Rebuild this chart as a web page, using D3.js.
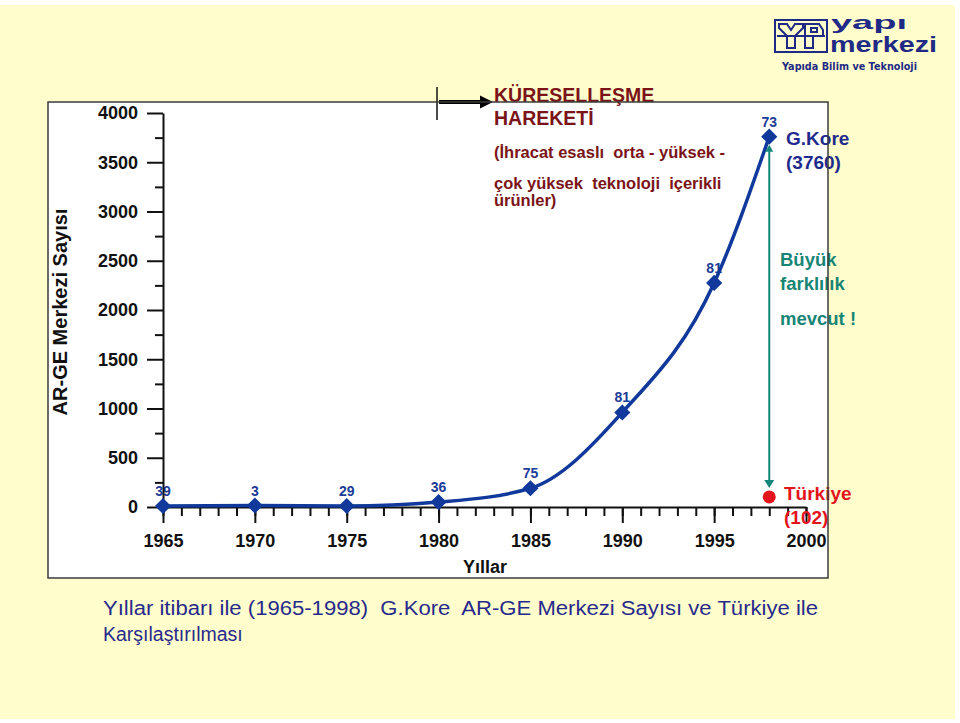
<!DOCTYPE html>
<html>
<head>
<meta charset="utf-8">
<script src="https://cdn.jsdelivr.net/npm/d3@7"></script>
<style>
  html, body { margin: 0; padding: 0; background: #ffffff; }
  svg { display: block; }
  text { font-family: "Liberation Sans", Arial, sans-serif; }
</style>
</head>
<body>
<svg id="chart" width="960" height="723"></svg>
<script>
// ---------------- data ----------------
const years = [1965, 1970, 1975, 1980, 1985, 1990, 1995, 1998];
const koreValues = [10, 15, 10, 50, 190, 960, 2275, 3760];
const pointLabels = ["39", "3", "29", "36", "75", "81", "81", "73"];
const turkeyYear = 1998;
const turkeyValue = 102;
const yMajorTicks = [0, 500, 1000, 1500, 2000, 2500, 3000, 3500, 4000];
const yMinorTicks = [250, 750, 1250, 1750, 2250, 2750, 3250, 3750];
const xMajorTicks = [1965, 1970, 1975, 1980, 1985, 1990, 1995, 2000];
const xMinorTicks = d3.range(1965, 2001);
const annotationTitle = ["KÜRESELLEŞME", "HAREKETİ"];
const annotationBody = ["(İhracat esaslı  orta - yüksek -", "çok yüksek  teknoloji  içerikli", "ürünler)"];
const gapText = ["Büyük", "farklılık", "mevcut !"];
const captionLines = ["Yıllar itibarı ile (1965-1998)  G.Kore  AR-GE Merkezi Sayısı ve Türkiye ile", "Karşılaştırılması"];

// ---------------- setup ----------------
const svg = d3.select("#chart");
const x = d3.scaleLinear().domain([1965, 2000]).range([163, 806]);
const y = d3.scaleLinear().domain([0, 4000]).range([507, 113]);

const navy = "#10399B";
const teal = "#15877A";
const red = "#E3141C";
const darkRed = "#7A1418";

// slide background
svg.append("rect").attr("x", 0).attr("y", 5).attr("width", 955).attr("height", 714).attr("fill", "#FFFDCB");

// chart frame fill
svg.append("rect").attr("x", 48).attr("y", 102).attr("width", 780).attr("height", 476).attr("fill", "#ffffff");

// ---------------- data labels (under the line) ----------------
svg.append("g").selectAll("text").data(years).join("text")
  .attr("x", (d) => x(d))
  .attr("y", (d, i) => y(koreValues[i]) - 10)
  .attr("text-anchor", "middle")
  .attr("font-size", 14).attr("font-weight", "bold")
  .attr("fill", "#1B3C97")
  .text((d, i) => pointLabels[i]);

// ---------------- axes ----------------
const yAxis = svg.append("g").attr("transform", "translate(163,0)")
  .call(d3.axisLeft(y).tickValues(yMajorTicks).tickSize(16).tickSizeOuter(0).tickPadding(9).tickFormat(d3.format("d")));
svg.append("g").attr("transform", "translate(163,0)")
  .call(d3.axisLeft(y).tickValues(yMinorTicks).tickSize(8).tickSizeOuter(0).tickFormat(""))
  .select(".domain").remove();
yAxis.selectAll("text").attr("font-size", 18).attr("font-weight", "bold").attr("fill", "#111")
  .attr("font-family", "Liberation Sans, Arial, sans-serif");

const xAxis = svg.append("g").attr("transform", "translate(0,507)")
  .call(d3.axisBottom(x).tickValues(xMajorTicks).tickSize(16).tickSizeOuter(0).tickPadding(11).tickFormat(d3.format("d")));
svg.append("g").attr("transform", "translate(0,507)")
  .call(d3.axisBottom(x).tickValues(xMinorTicks).tickSize(9).tickSizeOuter(0).tickFormat(""))
  .select(".domain").remove();
xAxis.selectAll("text").attr("font-size", 18).attr("font-weight", "bold").attr("fill", "#111")
  .attr("font-family", "Liberation Sans, Arial, sans-serif");
svg.selectAll(".domain, .tick line").attr("stroke", "#111").attr("stroke-width", 2);

// axis titles
svg.append("text").attr("x", 485).attr("y", 573).attr("text-anchor", "middle")
  .attr("font-size", 18).attr("font-weight", "bold").attr("fill", "#111").text("Yıllar");
svg.append("text").attr("transform", "translate(67,312) rotate(-90)").attr("text-anchor", "middle")
  .attr("font-size", 20).attr("font-weight", "bold").attr("fill", "#111").text("AR-GE Merkezi Sayısı");

// ---------------- Korea line ----------------
const pts = years.map((d, i) => [d, koreValues[i]]);
svg.append("path").datum(pts)
  .attr("d", d3.line().x((d) => x(d[0])).y((d) => y(d[1])).curve(d3.curveMonotoneX))
  .attr("fill", "none").attr("stroke", navy).attr("stroke-width", 3.5);

svg.append("g").selectAll("path").data(pts).join("path")
  .attr("d", d3.symbol().type(d3.symbolSquare).size(130))
  .attr("transform", (d) => `translate(${x(d[0])},${y(d[1])}) rotate(45)`)
  .attr("fill", navy);

// ---------------- gap arrow ----------------
const gx = x(turkeyYear);
const gTop = y(3760) + 8, gBot = y(turkeyValue) - 9;
svg.append("line").attr("x1", gx).attr("x2", gx).attr("y1", gTop + 4).attr("y2", gBot - 6)
  .attr("stroke", teal).attr("stroke-width", 2);
svg.append("path").attr("d", `M${gx},${gBot} L${gx - 5},${gBot - 8} L${gx + 5},${gBot - 8} Z`).attr("fill", teal);
svg.append("path").attr("d", `M${gx},${gTop} L${gx - 4},${gTop + 7} L${gx + 4},${gTop + 7} Z`).attr("fill", teal);

// Turkey point
svg.append("circle").attr("cx", x(turkeyYear)).attr("cy", y(turkeyValue)).attr("r", 6.5).attr("fill", red);

// ---------------- text annotations ----------------
svg.append("text").attr("x", 786).attr("y", 145).attr("font-size", 19).attr("font-weight", "bold").attr("fill", "#1F2B8C").text("G.Kore");
svg.append("text").attr("x", 786).attr("y", 169).attr("font-size", 19).attr("font-weight", "bold").attr("fill", "#1F2B8C").text("(3760)");

svg.append("text").attr("x", 784).attr("y", 500).attr("font-size", 19).attr("font-weight", "bold").attr("fill", red).text("Türkiye");
svg.append("text").attr("x", 784).attr("y", 524).attr("font-size", 19).attr("font-weight", "bold").attr("fill", red).text("(102)");

const gapY = [266, 290, 325];
gapText.forEach((t, i) => {
  svg.append("text").attr("x", 780).attr("y", gapY[i]).attr("font-size", 18.5).attr("font-weight", "bold").attr("fill", "#178575").text(t);
});

annotationTitle.forEach((t, i) => {
  svg.append("text").attr("x", 494).attr("y", [102, 125][i]).attr("font-size", 19.5).attr("font-weight", "bold").attr("fill", darkRed).text(t);
});
annotationBody.forEach((t, i) => {
  svg.append("text").attr("x", 494).attr("y", [158, 189, 206][i]).attr("font-size", 16.5).attr("font-weight", "bold")
    .attr("fill", darkRed).style("white-space", "pre").text(t);
});

// globalisation arrow
svg.append("line").attr("x1", 437).attr("x2", 437).attr("y1", 87).attr("y2", 120).attr("stroke", "#111").attr("stroke-width", 1.5);
svg.append("line").attr("x1", 439).attr("x2", 482).attr("y1", 102).attr("y2", 102).attr("stroke", "#000").attr("stroke-width", 4);
svg.append("path").attr("d", "M493,102 L480,95.5 L480,108.5 Z").attr("fill", "#000");

// frame border on top
svg.append("rect").attr("x", 48).attr("y", 102).attr("width", 780).attr("height", 476)
  .attr("fill", "none").attr("stroke", "#3b3b3b").attr("stroke-width", 1.5);

// caption
captionLines.forEach((t, i) => {
  const tx = svg.append("text").attr("x", 103).attr("y", [615, 641][i]).attr("font-size", 19.5)
    .attr("fill", "#272A8C").style("white-space", "pre").text(t);
  if (i === 0) tx.attr("textLength", 715).attr("lengthAdjust", "spacingAndGlyphs");
});

// ---------------- logo ----------------
const logo = svg.append("g").attr("fill", "none").attr("stroke", "#1E2A85").attr("stroke-width", 2);
logo.append("rect").attr("x", 775).attr("y", 20).attr("width", 52).attr("height", 32);
logo.append("path").attr("d", "M779,24 L787,24 L791,30 L795,24 L803,24 L803,28 L795,36 L795,48 L787,48 L787,36 L779,28 Z");
logo.append("path").attr("d", "M805,24 L819,24 L823,30 L823,36 L813,36 L813,48 L805,48 Z M811,28 L817,28 L817,32 L811,32 Z");
logo.append("line").attr("x1", 777).attr("x2", 825).attr("y1", 36).attr("y2", 36);
svg.append("text").attr("x", 831).attr("y", 29).attr("font-size", 19).attr("font-weight", "bold")
  .attr("fill", "#1E2A85").attr("textLength", 76).attr("lengthAdjust", "spacingAndGlyphs").text("yapı");
svg.append("text").attr("x", 830).attr("y", 52).attr("font-size", 22).attr("font-weight", "bold")
  .attr("fill", "#1E2A85").attr("textLength", 107).attr("lengthAdjust", "spacingAndGlyphs").text("merkezi");
svg.append("text").attr("x", 782).attr("y", 70).attr("font-size", 11).attr("font-weight", "bold")
  .attr("fill", "#1E2A85").attr("textLength", 135).attr("lengthAdjust", "spacingAndGlyphs")
  .style("font-family", "DejaVu Sans, sans-serif").text("Yapıda Bilim ve Teknoloji");
</script>
</body>
</html>
